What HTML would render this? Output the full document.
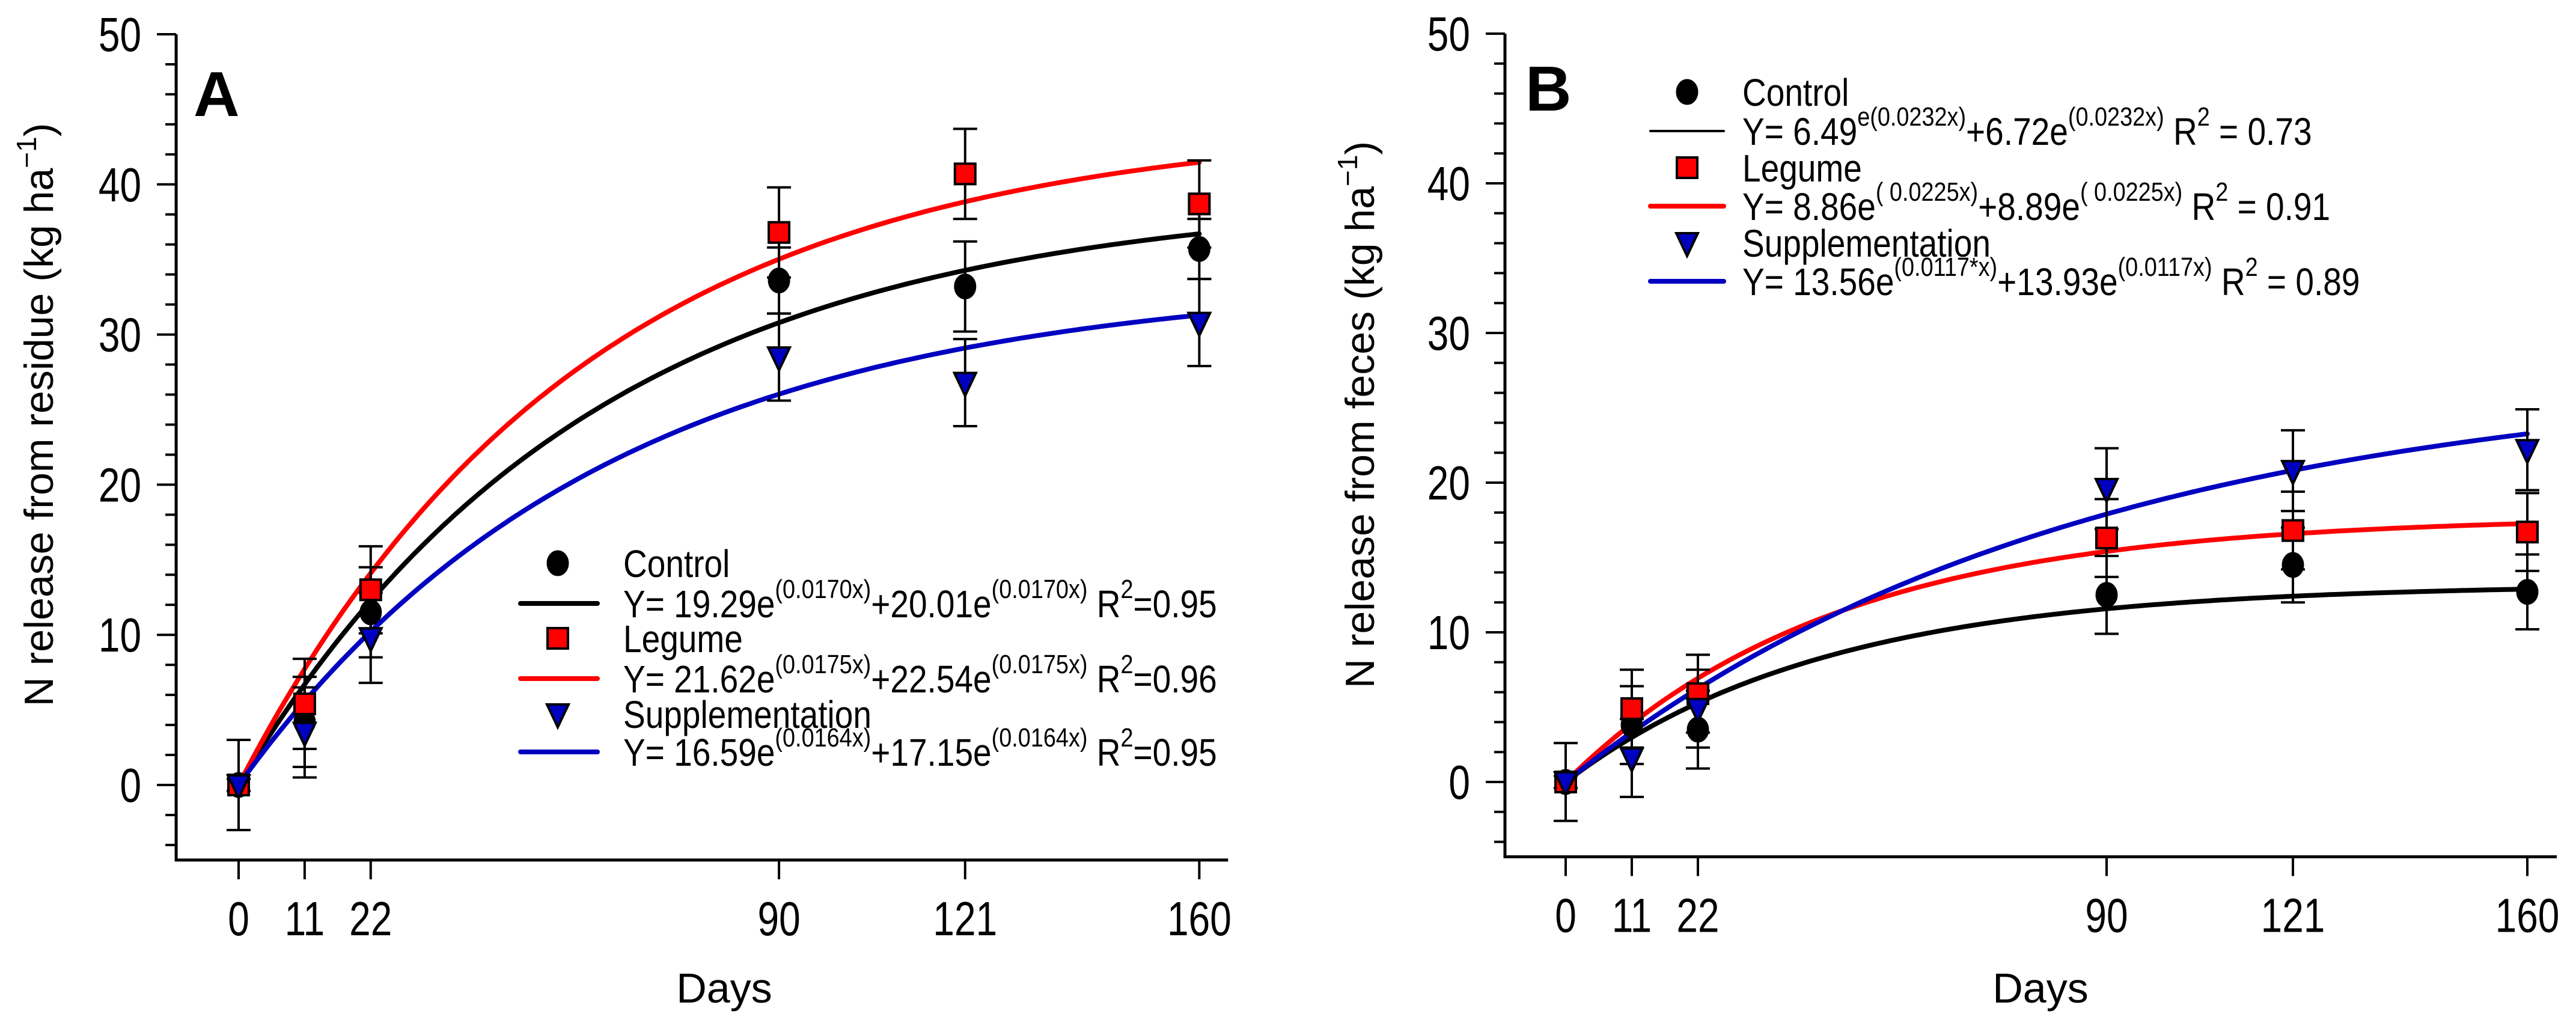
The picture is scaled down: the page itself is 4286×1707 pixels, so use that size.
<!DOCTYPE html>
<html><head><meta charset="utf-8"><style>
html,body{margin:0;padding:0;background:#fff;}
svg{display:block;}
text{font-family:"Liberation Sans Narrow","Liberation Sans",Arial,sans-serif;}
.t{font-family:"Liberation Sans",Arial,sans-serif;}
</style></head><body>
<svg id="chart" width="4286" height="1707" viewBox="0 0 4286 1707" xmlns="http://www.w3.org/2000/svg"></svg>
<script>
const days = [0, 11, 22, 90, 121, 160];
const xTicks = [0, 11, 22, 90, 121, 160];
const yTicks = [0, 10, 20, 30, 40, 50];
const seriesNames = ["Control", "Legume", "Supplementation"];
// Panel A
const aControl = [0, 4.2, 11.5, 33.6, 33.2, 35.7];
const aLegume = [0, 5.4, 13.0, 36.8, 40.7, 38.7];
const aSupp = [0, 3.5, 9.8, 28.5, 26.8, 30.8];
const aControlErr = [3, 3, 3, 2.2, 3, 2];
const aLegumeErr = [0.4, 3, 2.9, 3, 3, 2.9];
const aSuppErr = [0.4, 3, 3, 2.9, 2.9, 2.9];
const aAsym = [39.30, 44.16, 33.74];
const aRate = [0.0170, 0.0175, 0.0164];
// Panel B
const bControl = [0, 3.8, 3.5, 12.5, 14.5, 12.7];
const bLegume = [0, 4.9, 5.9, 16.3, 16.8, 16.7];
const bSupp = [0, 1.6, 4.9, 19.6, 20.8, 22.2];
const bControlErr = [2.6, 2.6, 2.6, 2.6, 2.5, 2.5];
const bLegumeErr = [0.4, 2.6, 2.6, 2.6, 2.6, 2.6];
const bSuppErr = [0.4, 2.6, 2.6, 2.7, 2.7, 2.7];
const bAsym = [13.21, 17.75, 27.49];
const bRate = [0.0232, 0.0225, 0.0117];

const NS = "http://www.w3.org/2000/svg";
const svg = document.getElementById('chart');
function mk(tag, attrs, parent, txt) {
  const e = document.createElementNS(NS, tag);
  for (const k in attrs) e.setAttribute(k, attrs[k]);
  if (txt !== undefined) e.textContent = txt;
  (parent || svg).appendChild(e);
  return e;
}
// narrow text: horizontally squeezed
function ntext(x, y, size, sx, anchor, parent, txt) {
  return mk('text', {x: x / sx, y: y, 'font-size': size, 'text-anchor': anchor, transform: `scale(${sx},1)`}, parent, txt);
}
const colors = ["#000000", "#ff0000", "#0000c0"];

function panel(cfg) {
  const g = mk('g', {});
  
  
  const xs = d => cfg.x0 + d * cfg.dx;
  const ys = v => cfg.y0 - v * cfg.dy;
  const xl = xs(cfg.xmin), xr = xs(cfg.xmax), yb = ys(-5), yt = ys(50);
  const ax = mk('path', {d: `M${xl},${yt} L${xl},${yb} L${xr},${yb}`, fill: 'none', stroke: '#000', 'stroke-width': 5}, g);
  
  
  for (let v = -4; v <= 50; v += 2) {
    const major = v % 10 === 0;
    const t = mk('line', {x1: xl - (major ? 32 : 18), x2: xl, y1: ys(v), y2: ys(v), stroke: '#000', 'stroke-width': 4}, g);
    
    
  }
  yTicks.forEach(v => {
    const t = ntext(xl - 58, ys(v) + 28, 80, 0.8, 'end', g, String(v));
    
    
  });
  xTicks.forEach(d => {
    const t = mk('line', {x1: xs(d), x2: xs(d), y1: yb, y2: yb + 32, stroke: '#000', 'stroke-width': 4}, g);
    
    
    const l = ntext(xs(d), yb + 125, 80, 0.8, 'middle', g, String(d));
    
    
  });
  const xt = mk('text', {class: 't', x: cfg.daysX, y: 1668, 'text-anchor': 'middle', 'font-size': 70}, g, 'Days');
  
  
  const ytl = mk('text', {class: 't', x: 0, y: 0, 'text-anchor': 'middle', 'font-size': 68, transform: `translate(${cfg.titleX},${cfg.titleY}) rotate(-90)`}, g);
  
  
  ytl.appendChild(document.createTextNode(cfg.ytitle + ' (kg ha'));
  mk('tspan', {dy: -28, 'font-size': 46}, ytl, '\u22121');
  mk('tspan', {dy: 28}, ytl, ')');
  const pl = mk('text', {class: 't', x: cfg.letterX, y: cfg.letterY, 'font-size': 106, 'font-weight': 'bold'}, g, cfg.letter);
  
  

  cfg.asym.forEach((a, i) => {
    let d = '';
    for (let x = 0; x <= 160; x += 1) {
      const v = a * (1 - Math.exp(-cfg.rate[i] * x));
      d += (x === 0 ? 'M' : 'L') + xs(x).toFixed(1) + ',' + ys(v).toFixed(1);
    }
    const p = mk('path', {d, fill: 'none', stroke: colors[i], 'stroke-width': 8, 'stroke-linecap': 'round'}, g);
    
    
  });
  cfg.data.forEach((ser, i) => {
    ser.forEach((v, j) => {
      const e = cfg.err[i][j];
      const x = xs(days[j]);
      const eb = mk('path', {d: `M${x},${ys(v - e)} L${x},${ys(v + e)} M${x - 20},${ys(v - e)} L${x + 20},${ys(v - e)} M${x - 20},${ys(v + e)} L${x + 20},${ys(v + e)}`, stroke: '#000', 'stroke-width': 4, fill: 'none'}, g);
      
      
    });
  });
  function marker(i, x, y, parent) {
    let m;
    if (i === 0) m = mk('ellipse', {cx: x, cy: y, rx: 17, ry: 20, fill: '#000', stroke: '#000', 'stroke-width': 3}, parent);
    else if (i === 1) m = mk('rect', {x: x - 17, y: y - 17, width: 34, height: 34, fill: '#ff0000', stroke: '#000', 'stroke-width': 4}, parent);
    else m = mk('path', {d: `M${x - 18},${y - 16} L${x + 18},${y - 16} L${x},${y + 22} Z`, fill: '#0000c0', stroke: '#000', 'stroke-width': 4}, parent);
    return m;
  }
  cfg.data.forEach((ser, i) => {
    ser.forEach((v, j) => {
      const m = marker(i, xs(days[j]), ys(v), g);
      
      
    });
  });
  const lg = mk('g', {}, g);
  
  
  const sx = 0.86;
  cfg.eqs.forEach((eq, i) => {
    const ry = cfg.legRows[2 * i], ey = cfg.legRows[2 * i + 1];
    const m = marker(i, cfg.legMarkX, ry, lg);
    
    
    const lt = ntext(cfg.legTextX, ry + 23, 64, sx, 'start', lg, seriesNames[i]);
    
    
    const ln = mk('line', {x1: cfg.legLine[0], x2: cfg.legLine[1], y1: ey, y2: ey, stroke: colors[i], 'stroke-width': (cfg.letter === 'B' && i === 0) ? 4 : 8, 'stroke-linecap': 'round'}, lg);
    
    
    const et = ntext(cfg.legTextX, ey + 23, 64, sx, 'start', lg);
    
    
    let up = false;
    eq.forEach(part => {
      if (part[0] === '^') { mk('tspan', {'font-size': 44, dy: up ? 0 : -32}, et, part.slice(1)); up = true; }
      else { mk('tspan', {dy: up ? 32 : 0}, et, part); up = false; }
    });
  });
}

panel({
  name: 'panel-a', letter: 'A', x0: 397, dx: 9.99, y0: 1306, dy: 24.98, xmin: -10.4, xmax: 164.8,
  data: [aControl, aLegume, aSupp], err: [aControlErr, aLegumeErr, aSuppErr], asym: aAsym, rate: aRate,
  ytitle: 'N release from residue', titleX: 88, titleY: 690, daysX: 1205, letterX: 322, letterY: 193,
  legMarkX: 928, legTextX: 1037, legLine: [866, 994], legRows: [937, 1004, 1062, 1129, 1188, 1251],
  eqs: [
    ['Y= 19.29e', '^(0.0170x)', '+20.01e', '^(0.0170x)', ' R', '^2', '=0.95'],
    ['Y= 21.62e', '^(0.0175x)', '+22.54e', '^(0.0175x)', ' R', '^2', '=0.96'],
    ['Y= 16.59e', '^(0.0164x)', '+17.15e', '^(0.0164x)', ' R', '^2', '=0.95']
  ]
});
panel({
  name: 'panel-b', letter: 'B', x0: 2605, dx: 10.0, y0: 1301, dy: 24.9, xmin: -10.1, xmax: 164.9,
  data: [bControl, bLegume, bSupp], err: [bControlErr, bLegumeErr, bSuppErr], asym: bAsym, rate: bRate,
  ytitle: 'N release from feces', titleX: 2286, titleY: 690, daysX: 3395, letterX: 2538, letterY: 184,
  legMarkX: 2807, legTextX: 2899, legLine: [2746, 2868], legRows: [153, 218, 279, 343, 404, 468],
  eqs: [
    ['Y=  6.49', '^e(0.0232x)', '+6.72e', '^(0.0232x)', ' R', '^2', ' = 0.73'],
    ['Y=  8.86e', '^( 0.0225x)', '+8.89e', '^( 0.0225x)', '  R', '^2', ' = 0.91'],
    ['Y=  13.56e', '^(0.0117*x)', '+13.93e', '^(0.0117x)', ' R', '^2', ' = 0.89']
  ]
});
</script>
</body></html>
